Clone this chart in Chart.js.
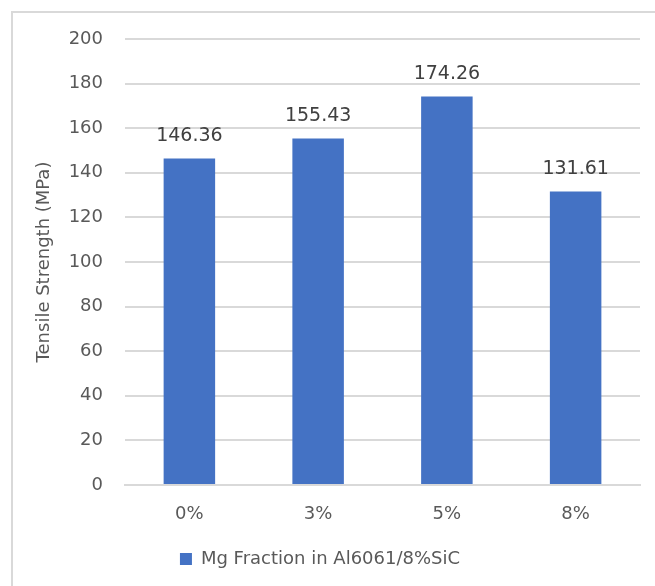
<!DOCTYPE html>
<html lang="en">
<head>
  <meta charset="UTF-8" />
  <title>Tensile Strength vs Mg Fraction</title>
  <script src="https://cdn.jsdelivr.net/npm/chart.js"></script>
  <style>
    * { margin: 0; padding: 0; }
    body { width: 655px; height: 586px; overflow: hidden; background: #fff; position: relative; }
    .frame {
      position: absolute; left: 11px; top: 11px;
      width: 700px; height: 700px;
      border: 2px solid #d9d9d9;
    }
    #wrap { position: absolute; left: 0; top: 0; width: 655px; height: 586px; }
  </style>
</head>
<body>
  <div class="frame"></div>
  <div id="wrap"><canvas id="tensile-chart" width="655" height="586"></canvas></div>
  <script>
    const categories = ['0%', '3%', '5%', '8%'];
    const strength = [146.36, 155.43, 174.26, 131.61];
    const seriesName = 'Mg Fraction in Al6061/8%SiC';
    const yTicks = [0, 20, 40, 60, 80, 100, 120, 140, 160, 180, 200];

    const FONT = 'DejaVu Sans';

    // value labels above each bar
    const barLabels = {
      id: 'barLabels',
      afterDatasetsDraw(chart) {
        const ctx = chart.ctx;
        const meta = chart.getDatasetMeta(0);
        ctx.save();
        ctx.font = '19px "' + FONT + '"';
        ctx.fillStyle = '#404040';
        ctx.textAlign = 'center';
        ctx.textBaseline = 'bottom';
        meta.data.forEach((bar, i) => {
          ctx.fillText(strength[i].toFixed(2), bar.x, bar.y - 13);
        });
        ctx.restore();
      }
    };

    new Chart(document.getElementById('tensile-chart'), {
      type: 'bar',
      data: {
        labels: categories,
        datasets: [{
          label: seriesName,
          data: strength,
          backgroundColor: '#4472C4',
          borderWidth: 0,
          categoryPercentage: 0.8,
          barPercentage: 0.5
        }]
      },
      options: {
        responsive: false,
        animation: false,
        devicePixelRatio: 1,
        layout: { padding: { top: 39, right: 15, bottom: 8, left: 0 } },
        plugins: {
          tooltip: { enabled: false },
          legend: {
            position: 'bottom',
            labels: {
              font: { family: FONT, size: 18 },
              color: '#595959',
              boxWidth: 12,
              boxHeight: 12,
              padding: 10
            }
          }
        },
        scales: {
          x: {
            grid: { display: false, drawTicks: false },
            border: { display: true, color: '#d9d9d9', width: 2 },
            ticks: { font: { family: FONT, size: 18 }, color: '#595959', padding: 19 },
            afterFit(scale) { scale.height = 55; }
          },
          y: {
            min: 0,
            max: 200,
            afterBuildTicks(scale) { scale.ticks = yTicks.map(v => ({ value: v })); },
            grid: { color: '#d9d9d9', lineWidth: 2, drawTicks: false },
            border: { display: false },
            ticks: { font: { family: FONT, size: 18 }, color: '#595959', padding: 22 },
            title: {
              display: true,
              text: 'Tensile Strength (MPa)',
              font: { family: FONT, size: 18 },
              color: '#595959',
              padding: { top: 34, bottom: 0 }
            },
            afterFit(scale) { scale.width = 125; }
          }
        }
      },
      plugins: [barLabels]
    });
  </script>
</body>
</html>
